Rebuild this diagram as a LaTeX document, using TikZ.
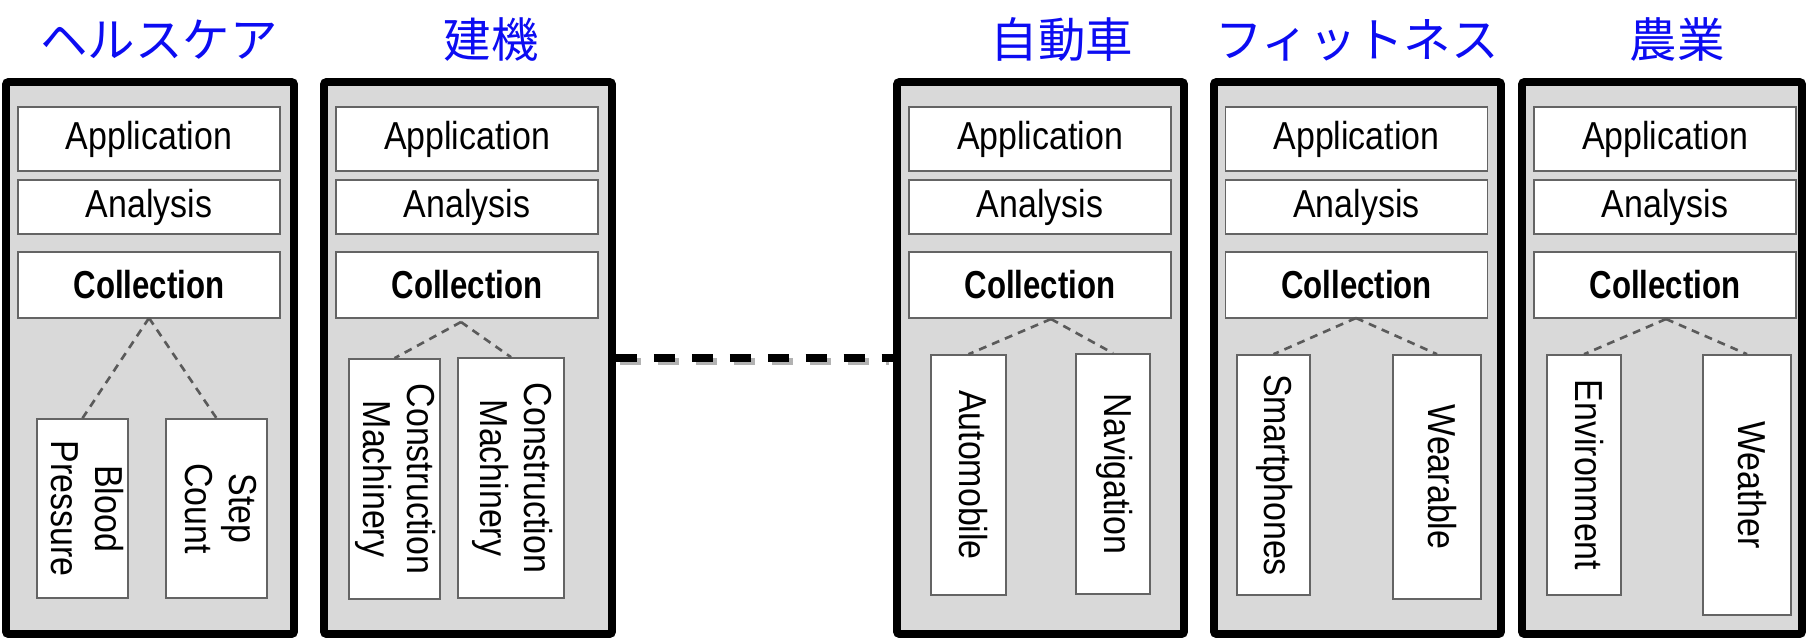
\documentclass[tikz,border=0pt]{standalone}
\usepackage{graphicx}
\usepackage{fontspec}
\setmainfont{Liberation Sans}[FakeStretch=0.87]
\newfontfamily\collfont{Liberation Sans}[FakeStretch=0.80]
\newfontfamily\jpfont{Noto Sans CJK JP}
\usetikzlibrary{positioning}

\definecolor{panelgray}{RGB}{217,217,217}
\definecolor{edgegray}{RGB}{100,100,100}
\definecolor{linkgray}{RGB}{90,90,90}
\definecolor{titleblue}{RGB}{12,12,242}

\def\unitpx{0.02cm}
\newcommand\labelsize{\fontsize{22.2}{25}\selectfont}
\newcommand\titlesize{\jpfont\fontsize{27}{30}\selectfont}
\newcommand\vtext[1]{\rotatebox{-90}{\begin{tabular}{@{}c@{}}#1\end{tabular}}}
\newcommand\colltext{{\collfont\bfseries Collection}}

\tikzset{
  panel/.style={draw, line width=4.5pt, fill=panelgray, rounded corners=1.5pt,
    inner sep=0pt, minimum width=288*\unitpx, minimum height=552*\unitpx},
  layer/.style={draw=edgegray, line width=0.9pt, fill=white, inner sep=0pt,
    minimum width=262*\unitpx, font=\labelsize},
  leaf/.style 2 args={draw=edgegray, line width=0.9pt, fill=white, inner sep=0pt,
    minimum width=#1*\unitpx, minimum height=#2*\unitpx, font=\labelsize},
  title/.style={font=\titlesize, text=titleblue, anchor=base},
  link/.style={draw=linkgray, line width=1.5pt, dash pattern=on 4.5pt off 3.5pt},
}

\begin{document}
\begin{tikzpicture}[x=0.02cm, y=-0.02cm]
\useasboundingbox (0,0) rectangle (1807,643);

\def\ya{139};
\def\yb{207};
\def\yc{285};

% healthcare
\node[title] (t1) at (159, 57) {ヘルスケア};
\node[panel] (p1) at (150, 358) {};
\node[layer, minimum height=64*\unitpx] (app1) at (149, \ya) {Application};
\node[layer, minimum height=54*\unitpx] (ana1) at (149, \yb) {Analysis};
\node[layer, minimum height=66*\unitpx] (col1) at (149, \yc) {\colltext};
\coordinate (r1) at (149, 318);
\node[leaf={91}{179}] (a1) at (82.5, 508.5) {\vtext{Blood\\Pressure}};
\node[leaf={101}{179}] (b1) at (216.5, 508.5) {\vtext{Step\\Count}};
\draw[link] (r1) -- (a1.north);
\draw[link] (r1) -- (b1.north);

% construction machinery
\node[title] (t2) at (491, 57) {建機};
\node[panel] (p2) at (468, 358) {};
\node[layer, minimum height=64*\unitpx] (app2) at (467, \ya) {Application};
\node[layer, minimum height=54*\unitpx] (ana2) at (467, \yb) {Analysis};
\node[layer, minimum height=66*\unitpx] (col2) at (467, \yc) {\colltext};
\coordinate (r2) at (461, 322);
\node[leaf={91}{240}] (a2) at (394.5, 479) {\vtext{Construction\\Machinery}};
\node[leaf={106}{240}] (b2) at (511, 478) {\vtext{Construction\\Machinery}};
\draw[link] (r2) -- (a2.north);
\draw[link] (r2) -- (b2.north);

% automobile
\node[title] (t3) at (1062, 57) {自動車};
\node[panel, minimum width=287*\unitpx] (p3) at (1040.5, 358) {};
\node[layer, minimum height=64*\unitpx] (app3) at (1040, \ya) {Application};
\node[layer, minimum height=54*\unitpx] (ana3) at (1040, \yb) {Analysis};
\node[layer, minimum height=66*\unitpx] (col3) at (1040, \yc) {\colltext};
\coordinate (r3) at (1051, 319);
\node[leaf={75}{240}] (a3) at (968.5, 475) {\vtext{Automobile}};
\node[leaf={74}{240}] (b3) at (1113, 474) {\vtext{Navigation}};
\draw[link] (r3) -- (a3.north);
\draw[link] (r3) -- (b3.north);

% fitness
\node[title] (t4) at (1357, 57) {フィットネス};
\node[panel, minimum width=287*\unitpx] (p4) at (1357.5, 358) {};
\node[layer, minimum height=64*\unitpx] (app4) at (1356.5, \ya) {Application};
\node[layer, minimum height=54*\unitpx] (ana4) at (1356.5, \yb) {Analysis};
\node[layer, minimum height=66*\unitpx] (col4) at (1356.5, \yc) {\colltext};
\coordinate (r4) at (1356, 318);
\node[leaf={73}{240}] (a4) at (1273.5, 475) {\vtext{Smartphones}};
\node[leaf={88}{244}] (b4) at (1437, 477) {\vtext{Wearable}};
\draw[link] (r4) -- (a4.north);
\draw[link] (r4) -- (b4.north);

% agriculture
\node[title] (t5) at (1677, 57) {農業};
\node[panel, minimum width=280*\unitpx] (p5) at (1662, 358) {};
\node[layer, minimum height=64*\unitpx] (app5) at (1665, \ya) {Application};
\node[layer, minimum height=54*\unitpx] (ana5) at (1665, \yb) {Analysis};
\node[layer, minimum height=66*\unitpx] (col5) at (1665, \yc) {\colltext};
\coordinate (r5) at (1666, 319);
\node[leaf={74}{240}] (a5) at (1584, 475) {\vtext{Environment}};
\node[leaf={88}{260}] (b5) at (1747, 485) {\vtext{Weather}};
\draw[link] (r5) -- (a5.north);
\draw[link] (r5) -- (b5.north);

% gap between the two groups
\draw[line width=4pt, draw=black!30, dash pattern=on 12pt off 9.6pt,
  shorten <=2.25pt, shorten >=2.25pt] ([yshift=-2.2pt]p2.east) -- ([yshift=-2.2pt]p3.west);
\draw[line width=4pt, dash pattern=on 12pt off 9.6pt] (p2.east) -- (p3.west);

\end{tikzpicture}
\end{document}
